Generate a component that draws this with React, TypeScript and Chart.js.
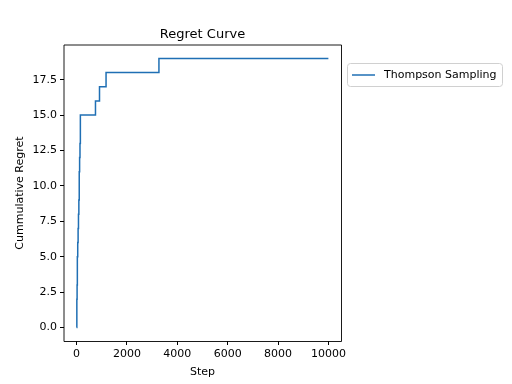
import React, { useEffect, useRef } from "react";
import { Chart, registerables } from "chart.js";

Chart.register(...registerables);

const steps = [0, 10, 20, 30, 45, 60, 75, 90, 105, 120, 135, 150, 750, 910, 1170, 3270, 9999];
const regret = [0, 2, 3, 5, 6, 7, 8, 9, 11, 12, 13, 15, 16, 17, 18, 19, 19];
const xTicks = [0, 2000, 4000, 6000, 8000, 10000];
const yTicks = [0, 2.5, 5, 7.5, 10, 12.5, 15, 17.5];
const seriesLabel = "Thompson Sampling";
const titleText = "Regret Curve";
const xLabel = "Step";
const yLabel = "Cummulative Regret";

const FONT = "'DejaVu Sans', sans-serif";

const decorPlugin = {
  id: "decor",
  afterDraw(chart: any) {
    const { ctx, chartArea } = chart;
    const { left, right, top, bottom } = chartArea;
    ctx.save();
    // frame
    ctx.strokeStyle = "#000";
    ctx.lineWidth = 0.9;
    ctx.beginPath();
    ctx.moveTo(left, bottom + 0.5);
    ctx.lineTo(left, top);
    ctx.lineTo(right + 0.5, top);
    ctx.lineTo(right + 0.5, bottom + 0.5);
    ctx.lineTo(left, bottom + 0.5);
    ctx.stroke();
    // title
    ctx.fillStyle = "#000";
    ctx.font = `13px ${FONT}`;
    ctx.textAlign = "center";
    ctx.textBaseline = "middle";
    ctx.fillText(titleText, (left + right) / 2, 35);
    // legend
    const bx = 347.5, by = 63.5, bw = 155, bh = 23, r = 3;
    ctx.beginPath();
    ctx.moveTo(bx + r, by);
    ctx.lineTo(bx + bw - r, by);
    ctx.quadraticCurveTo(bx + bw, by, bx + bw, by + r);
    ctx.lineTo(bx + bw, by + bh - r);
    ctx.quadraticCurveTo(bx + bw, by + bh, bx + bw - r, by + bh);
    ctx.lineTo(bx + r, by + bh);
    ctx.quadraticCurveTo(bx, by + bh, bx, by + bh - r);
    ctx.lineTo(bx, by + r);
    ctx.quadraticCurveTo(bx, by, bx + r, by);
    ctx.closePath();
    ctx.fillStyle = "#fff";
    ctx.fill();
    ctx.strokeStyle = "#d0d0d0";
    ctx.lineWidth = 1;
    ctx.stroke();
    const ds = chart.data.datasets[0];
    ctx.strokeStyle = ds.borderColor;
    ctx.lineWidth = 1.5;
    ctx.beginPath();
    ctx.moveTo(352, 75);
    ctx.lineTo(375, 75);
    ctx.stroke();
    ctx.fillStyle = "#000";
    ctx.font = `11px ${FONT}`;
    ctx.textAlign = "left";
    ctx.fillText(ds.label, 384, 75);
    ctx.restore();
  },
};

export default function App() {
  const ref = useRef<HTMLCanvasElement>(null);
  useEffect(() => {
    document.body.style.margin = "0";
    Chart.defaults.font.family = FONT;
    Chart.defaults.color = "#000";
    const chart = new Chart(ref.current!, {
      type: "line",
      data: {
        datasets: [
          {
            label: seriesLabel,
            data: steps.map((s, i) => ({ x: s, y: regret[i] })),
            borderColor: "#1f6fb4",
            borderWidth: 1.5,
            pointRadius: 0,
            stepped: "before",
            fill: false,
          },
        ],
      },
      options: {
        animation: false,
        responsive: false,
        events: [],
        layout: { padding: { top: 45, right: 171, bottom: 0, left: 0 } },
        plugins: { legend: { display: false }, title: { display: false }, tooltip: { enabled: false } },
        scales: {
          x: {
            type: "linear",
            min: -500,
            max: 10500,
            afterBuildTicks: (s: any) => {
              s.ticks = xTicks.map((v) => ({ value: v }));
            },
            afterFit: (s: any) => {
              s.height = 43;
            },
            grid: { display: true, drawOnChartArea: false, drawTicks: true, tickLength: 4, color: "#000" },
            border: { display: false },
            ticks: { font: { size: 11 }, padding: 3, maxRotation: 0, color: "#000", callback: (v: any) => String(v) },
            title: { display: true, text: xLabel, font: { size: 11 }, padding: { top: 0, bottom: 5 }, color: "#000" },
          },
          y: {
            type: "linear",
            min: -0.95,
            max: 19.95,
            afterBuildTicks: (s: any) => {
              s.ticks = yTicks.map((v) => ({ value: v }));
            },
            afterFit: (s: any) => {
              s.width = 64;
            },
            grid: { display: true, drawOnChartArea: false, drawTicks: true, tickLength: 4, color: "#000" },
            border: { display: false },
            ticks: { font: { size: 11 }, padding: 3, color: "#000", callback: (v: any) => Number(v).toFixed(1) },
            title: { display: true, text: yLabel, font: { size: 11 }, padding: { top: 14, bottom: 0 }, color: "#000" },
          },
        },
      },
      plugins: [decorPlugin],
    });
    return () => chart.destroy();
  }, []);
  return (
    <div style={{ position: "fixed", left: 0, top: 0, width: 512, height: 384, background: "#fff" }}>
      <canvas ref={ref} width={512} height={384} />
    </div>
  );
}
